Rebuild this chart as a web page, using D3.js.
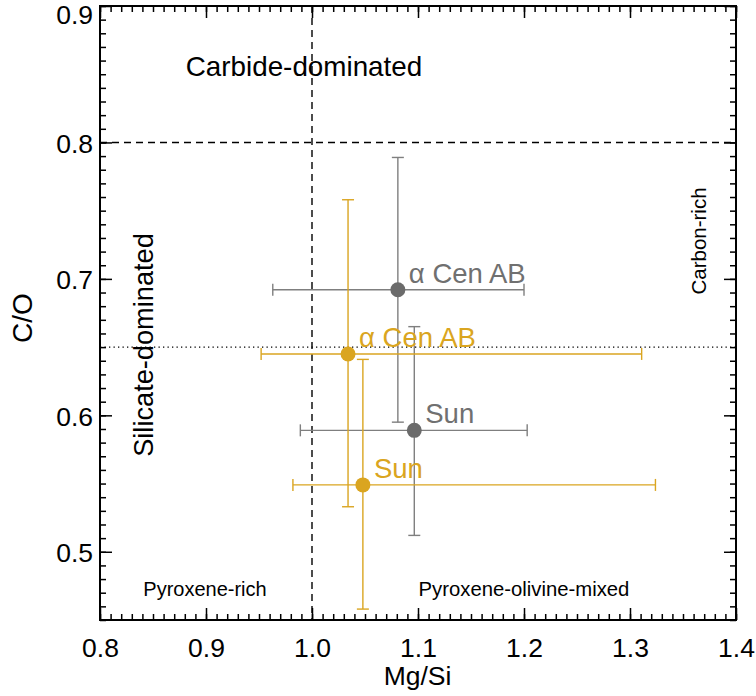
<!DOCTYPE html>
<html><head><meta charset="utf-8">
<script src="https://cdn.jsdelivr.net/npm/d3@7"></script>
<style>body{margin:0;background:#fff}svg{display:block;font-family:"Liberation Sans",Arial,Helvetica,sans-serif}</style>
</head><body><svg id="c" width="756" height="696"></svg>
<script>
// Data
const starNames = ["\u03b1 Cen AB", "Sun"];
// gray set
const grayMgSi   = [1.081, 1.0965];
const grayMgSiLo = [0.963, 0.989];
const grayMgSiHi = [1.200, 1.203];
const grayCO     = [0.692, 0.589];
const grayCOLo   = [0.595, 0.512];
const grayCOHi   = [0.789, 0.665];
// gold set
const goldMgSi   = [1.034, 1.048];
const goldMgSiLo = [0.952, 0.982];
const goldMgSiHi = [1.311, 1.324];
const goldCO     = [0.645, 0.549];
const goldCOLo   = [0.533, 0.458];
const goldCOHi   = [0.758, 0.641];
const xTicks = [0.8, 0.9, 1.0, 1.1, 1.2, 1.3, 1.4];
const yTicks = [0.5, 0.6, 0.7, 0.8, 0.9];
const regionLabels = ["Carbide-dominated", "Silicate-dominated", "Carbon-rich", "Pyroxene-rich", "Pyroxene-olivine-mixed"];

const L = 100, R = 736, T = 6, B = 620;
const svg = d3.select("#c");
const x = d3.scaleLinear().domain([0.8, 1.4]).range([L, R]);
const y = d3.scaleLinear().domain([0.45, 0.9]).range([B, T]);

const minorX = d3.range(80, 141).map(v => v / 100);
const minorY = d3.range(45, 91).map(v => v / 100);

// reference lines
svg.append("line").attr("x1", x(1.0)).attr("x2", x(1.0)).attr("y1", T).attr("y2", B)
  .attr("stroke", "#000").attr("stroke-width", 1.4).attr("stroke-dasharray", "7,5");
svg.append("line").attr("x1", L).attr("x2", R).attr("y1", y(0.8)).attr("y2", y(0.8))
  .attr("stroke", "#000").attr("stroke-width", 1.4).attr("stroke-dasharray", "7,5");
svg.append("line").attr("x1", L).attr("x2", R).attr("y1", y(0.65)).attr("y2", y(0.65))
  .attr("stroke", "#000").attr("stroke-width", 1.2).attr("stroke-dasharray", "1.3,3.2");

// axes (ticks inward)
function axisGroup(axisGen, tx, ty) {
  const g = svg.append("g").attr("transform", `translate(${tx},${ty})`).call(axisGen);
  g.select(".domain").remove();
  g.selectAll(".tick line").attr("stroke", "#000").attr("stroke-width", 1.5);
  return g;
}
const fmt = d3.format(".1f");
// bottom
axisGroup(d3.axisBottom(x).tickValues(minorX).tickSize(-6).tickFormat(""), 0, B);
const bx = axisGroup(d3.axisBottom(x).tickValues(xTicks).tickSize(-12).tickPadding(0).tickFormat(fmt), 0, B);
bx.selectAll("text").attr("font-size", 26.5).attr("fill", "#000").attr("dy", null).attr("y", 37);
// top
axisGroup(d3.axisTop(x).tickValues(minorX).tickSize(-6).tickFormat(""), 0, T);
axisGroup(d3.axisTop(x).tickValues(xTicks).tickSize(-12).tickFormat(""), 0, T);
// left
axisGroup(d3.axisLeft(y).tickValues(minorY).tickSize(-6).tickFormat(""), L, 0);
const ly = axisGroup(d3.axisLeft(y).tickValues(yTicks).tickSize(-12).tickPadding(0).tickFormat(fmt), L, 0);
ly.selectAll("text").attr("font-size", 26.5).attr("fill", "#000").attr("x", -7).attr("dy", "0.37em");
ly.selectAll(".tick").filter(d => d === 0.9).select("text").attr("dy", null).attr("y", 17);
// right
axisGroup(d3.axisRight(y).tickValues(minorY).tickSize(-6).tickFormat(""), R, 0);
axisGroup(d3.axisRight(y).tickValues(yTicks).tickSize(-12).tickFormat(""), R, 0);

// frame
svg.append("rect").attr("x", L).attr("y", T).attr("width", R - L).attr("height", B - T)
  .attr("fill", "none").attr("stroke", "#000").attr("stroke-width", 2);

// axis titles
svg.append("text").attr("x", 417.5).attr("y", 685).attr("text-anchor", "middle")
  .attr("font-size", 26.5).text("Mg/Si");
svg.append("text").attr("transform", `translate(32,${(T + B) / 2 + 5}) rotate(-90)`)
  .attr("text-anchor", "middle").attr("font-size", 28).text("C/O");

// region labels
svg.append("text").attr("x", 304).attr("y", 76).attr("text-anchor", "middle").attr("font-size", 27.8).text(regionLabels[0]);
svg.append("text").attr("transform", "translate(153,345) rotate(-90)").attr("text-anchor", "middle").attr("font-size", 27.2).text(regionLabels[1]);
svg.append("text").attr("transform", "translate(706,241) rotate(-90)").attr("text-anchor", "middle").attr("font-size", 20.5).text(regionLabels[2]);
svg.append("text").attr("x", 205).attr("y", 596).attr("text-anchor", "middle").attr("font-size", 20).text(regionLabels[3]);
svg.append("text").attr("x", 524).attr("y", 596).attr("text-anchor", "middle").attr("font-size", 20.3).text(regionLabels[4]);

function drawSet(mx, mlo, mhi, cy, clo, chi, lineColor, dotColor, textColor) {
  const data = starNames.map((n, i) => ({n, mx: mx[i], mlo: mlo[i], mhi: mhi[i], cy: cy[i], clo: clo[i], chi: chi[i]}));
  const g = svg.append("g");
  const cap = 6;
  data.forEach(d => {
    const gg = g.append("g").attr("stroke", lineColor).attr("stroke-width", 1.4);
    gg.append("line").attr("x1", x(d.mlo)).attr("x2", x(d.mhi)).attr("y1", y(d.cy)).attr("y2", y(d.cy));
    gg.append("line").attr("x1", x(d.mlo)).attr("x2", x(d.mlo)).attr("y1", y(d.cy) - cap).attr("y2", y(d.cy) + cap);
    gg.append("line").attr("x1", x(d.mhi)).attr("x2", x(d.mhi)).attr("y1", y(d.cy) - cap).attr("y2", y(d.cy) + cap);
    gg.append("line").attr("x1", x(d.mx)).attr("x2", x(d.mx)).attr("y1", y(d.clo)).attr("y2", y(d.chi));
    gg.append("line").attr("x1", x(d.mx) - cap).attr("x2", x(d.mx) + cap).attr("y1", y(d.clo)).attr("y2", y(d.clo));
    gg.append("line").attr("x1", x(d.mx) - cap).attr("x2", x(d.mx) + cap).attr("y1", y(d.chi)).attr("y2", y(d.chi));
    g.append("circle").attr("cx", x(d.mx)).attr("cy", y(d.cy)).attr("r", 7.5).attr("fill", dotColor);
    g.append("text").attr("x", x(d.mx) + 11).attr("y", y(d.cy) - 7).attr("font-size", 27.5)
      .attr("fill", textColor).text(d.n);
  });
}
drawSet(grayMgSi, grayMgSiLo, grayMgSiHi, grayCO, grayCOLo, grayCOHi, "#7f7f7f", "#6b6b6b", "#707070");
drawSet(goldMgSi, goldMgSiLo, goldMgSiHi, goldCO, goldCOLo, goldCOHi, "#DAA520", "#DAA520", "#DAA520");
</script></body></html>
